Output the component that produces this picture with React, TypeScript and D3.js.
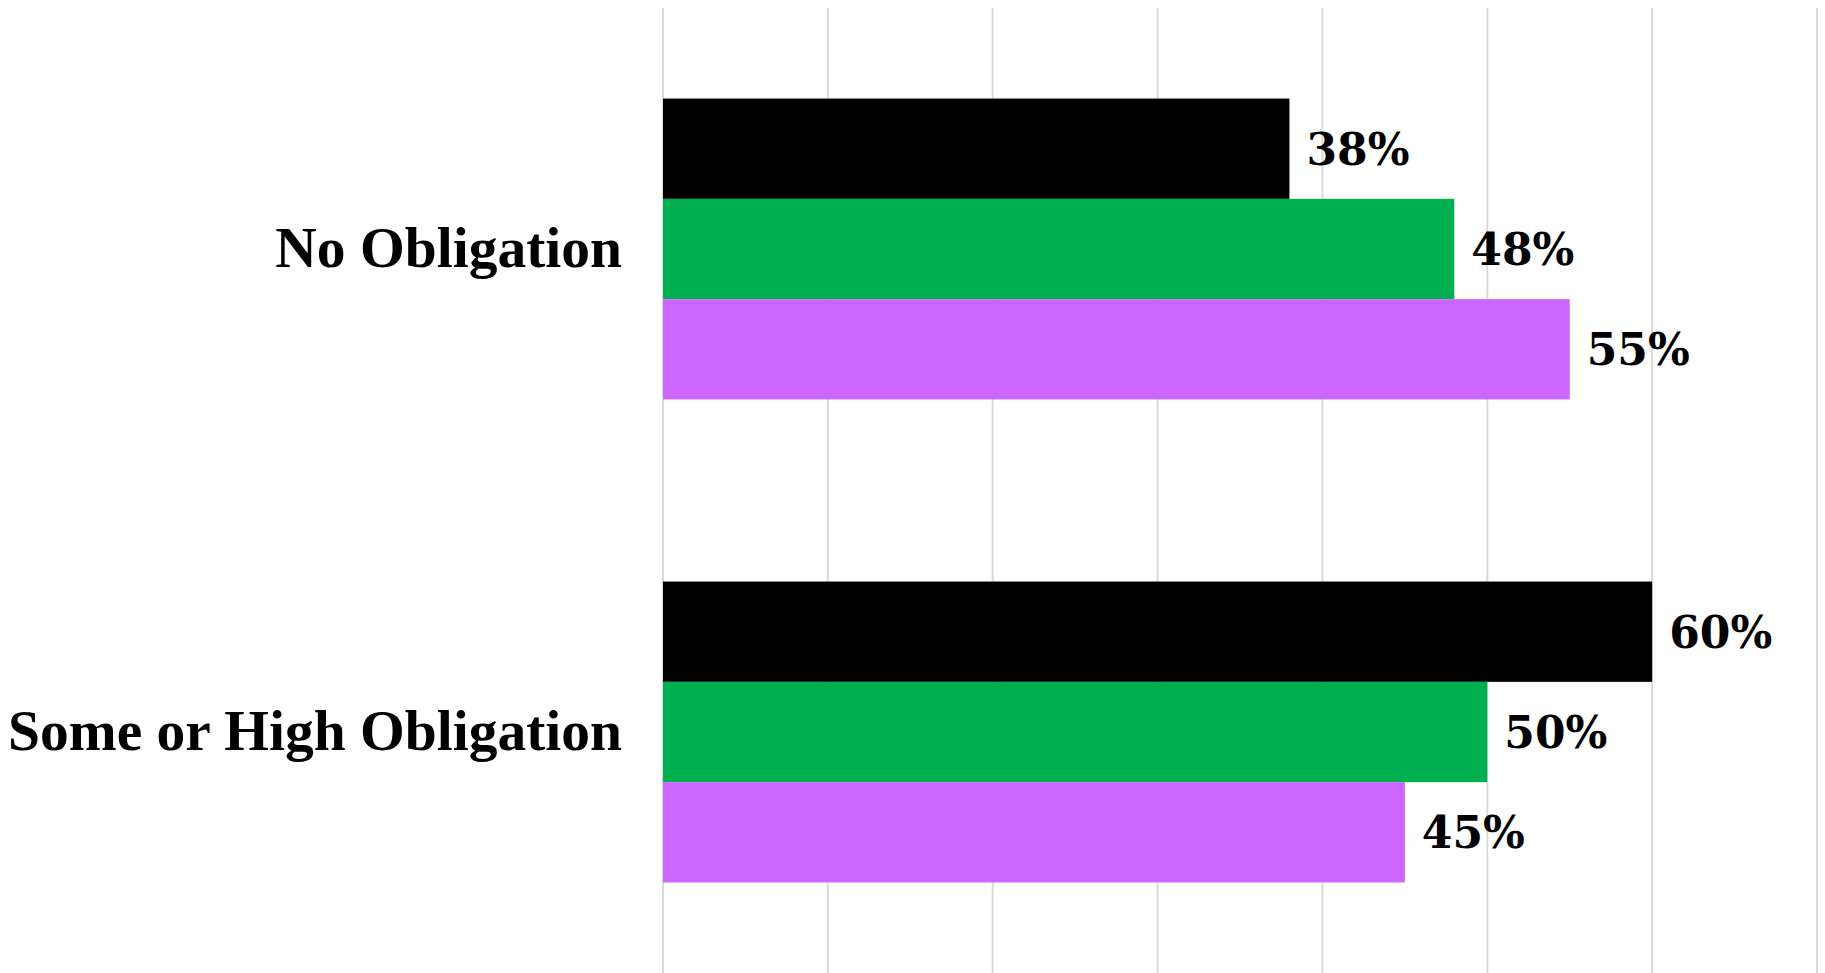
import React from "react";
import * as d3 from "d3";

const categories = ["No Obligation", "Some or High Obligation"];
const seriesNames = ["Series A", "Series B", "Series C"];
const seriesColors = ["#000000", "#00B050", "#CC66FF"];
const valuesA = [38, 60];
const valuesB = [48, 50];
const valuesC = [55, 45];
const seriesValues = [valuesA, valuesB, valuesC];
const xTicks = [0, 10, 20, 30, 40, 50, 60, 70];

const W = 1825;
const H = 973;

export default function App() {
  const x = d3.scaleLinear().domain([0, 70]).range([663, 1817]);
  const y = d3
    .scaleBand<string>()
    .domain(categories)
    .range([8, 973])
    .paddingInner(0.377)
    .paddingOuter(0.1875);
  const inner = d3
    .scaleBand<string>()
    .domain(seriesNames)
    .range([0, y.bandwidth()]);

  return (
    <div style={{ position: "fixed", left: 0, top: 0, width: W, height: H, background: "#fff" }}>
      <svg width={W} height={H} style={{ display: "block" }}>
        <rect x={0} y={0} width={W} height={H} fill="#ffffff" />
        {xTicks.map((t) => (
          <line
            key={t}
            x1={x(t)}
            x2={x(t)}
            y1={8}
            y2={H}
            stroke="#D9D9D9"
            strokeWidth={2}
          />
        ))}
        {categories.map((c, ci) => (
          <g key={c}>
            {seriesNames.map((s, si) => {
              const v = seriesValues[si][ci];
              const by = (y(c) ?? 0) + (inner(s) ?? 0);
              const bh = inner.bandwidth();
              return (
                <g key={s}>
                  <rect
                    x={x(0)}
                    y={by}
                    width={x(v) - x(0)}
                    height={bh}
                    fill={seriesColors[si]}
                  />
                  <text
                    x={x(v) + 17}
                    y={by + bh / 2 + 16}
                    fontFamily="'DejaVu Serif', serif"
                    fontWeight="bold"
                    fontSize={44}
                    fill="#000"
                  >
                    {v}%
                  </text>
                </g>
              );
            })}
            <text
              x={622}
              y={(y(c) ?? 0) + y.bandwidth() / 2 + 18}
              textAnchor="end"
              fontFamily="'Liberation Serif', serif"
              fontWeight="bold"
              fontSize={57.5}
              fill="#000"
            >
              {c}
            </text>
          </g>
        ))}
      </svg>
    </div>
  );
}
